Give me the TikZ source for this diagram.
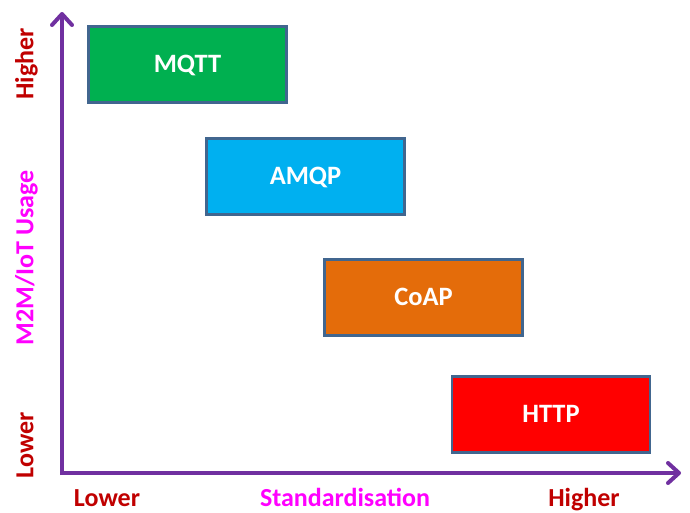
\documentclass[tikz,border=0pt]{standalone}
\usepackage{fontspec}
\setmainfont{Carlito}
\usetikzlibrary{arrows.meta}
\definecolor{axispurple}{HTML}{7030A0}
\definecolor{boxborder}{HTML}{41668F}
\definecolor{mqttgreen}{HTML}{00B050}
\definecolor{amqpcyan}{HTML}{00B0F0}
\definecolor{coaporange}{HTML}{E46C0A}
\definecolor{httpred}{HTML}{FF0000}
\definecolor{lblred}{HTML}{C00000}
\definecolor{lblmag}{HTML}{FF00FF}
\begin{document}
\begin{tikzpicture}[x=1pt,y=-1pt,
  proto/.style={draw=boxborder, line width=2.5pt, minimum width=198pt, minimum height=76pt,
    inner sep=0pt, text=white, text height=16.5pt, text depth=0pt,
    font=\fontsize{26.5}{30}\selectfont\bfseries},
  axis/.style={draw=axispurple, line width=4pt,
    -{Straight Barb[length=11pt,width=20pt,line cap=round,line join=round]}},
  lbl/.style={font=\fontsize{26}{30}\selectfont\bfseries, inner sep=0pt,
    text height=16.5pt, text depth=0pt}]
\useasboundingbox (0,0) rectangle (690,512);
\coordinate (origin) at (62,473);
\coordinate (ytop) at (62,12);
\coordinate (xend) at (681,473);
\draw[axis] (origin) -- (ytop);
\draw[axis] (origin) -- (xend);
\draw[axispurple, line width=4pt] (62,475) -- (origin);
\node[proto, fill=mqttgreen] (mqtt) at (187.5,64.5) {MQTT};
\node[proto, fill=amqpcyan] (amqp) at (305.5,176.5) {AMQP};
\node[proto, fill=coaporange] (coap) at (423.5,297.5) {CoAP};
\node[proto, fill=httpred] (http) at (551,414.5) {HTTP};
\node[lbl, text=lblred, rotate=90] (yhigh) at (25,64) {Higher};
\node[lbl, text=lblred, rotate=90] (ylow) at (25,445) {Lower};
\node[lbl, text=lblmag, rotate=90] (ylab) at (25,258) {M2M/IoT Usage};
\node[lbl, text=lblred] (xlow) at (107,498) {Lower};
\node[lbl, text=lblmag] (xlab) at (345,498) {Standardisation};
\node[lbl, text=lblred] (xhigh) at (584,498) {Higher};
\end{tikzpicture}
\end{document}
